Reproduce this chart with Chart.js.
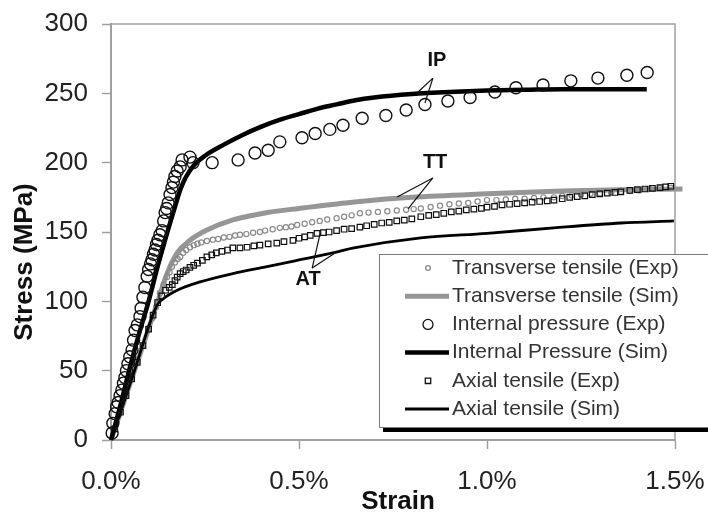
<!DOCTYPE html>
<html>
<head>
<meta charset="utf-8">
<script src="https://cdn.jsdelivr.net/npm/chart.js@4/dist/chart.umd.min.js"></script>
<style>
  html, body { margin: 0; padding: 0; background: #fff; }
  canvas { display: block; }
</style>
</head>
<body>
<canvas id="c" width="708" height="512"></canvas>
<script>
// ---------------- DATA (strain in %, stress in MPa) ----------------
const seriesLabels = [
  'Transverse tensile (Exp)', 'Transverse tensile (Sim)',
  'Internal pressure (Exp)', 'Internal Pressure (Sim)',
  'Axial tensile (Exp)', 'Axial tensile (Sim)'
];
const xTickValues = [0, 0.5, 1.0, 1.5];
const yTickValues = [0, 50, 100, 150, 200, 250, 300];

const ttExpStrain = [0.01,0.025,0.04,0.055,0.07,0.085,0.1,0.11,0.12,0.13,0.14,0.149,0.156,0.162,0.17,0.177,0.184,0.192,0.2,0.21,0.22,0.23,0.24,0.255,0.271,0.285,0.3,0.315,0.33,0.343,0.36,0.378,0.396,0.41,0.43,0.449,0.465,0.48,0.495,0.515,0.535,0.555,0.575,0.6,0.62,0.64,0.662,0.685,0.71,0.735,0.76,0.785,0.805,0.824,0.85,0.875,0.9,0.925,0.95,0.975,1.0,1.025,1.05,1.075,1.1,1.125,1.15,1.178,1.2,1.225,1.25,1.275,1.3,1.33,1.356,1.38,1.405,1.43,1.46,1.489];
const ttExpStress = [8,20,32,44,56,68,80,88,96,106,112,117.5,121,125,128,130.5,132,135,137,139,140.5,141.5,142.5,143.5,144.5,145,146,146.5,147.5,148,148.5,149.5,150,151,152,153,153.5,154,155,156,157,158,159,160,161,162,163.5,164,164.5,165,165.5,166,166.5,167,168,169,170,170.5,171,172,173,173,173.5,174,174,174.5,175,175,176,176.5,177,177.5,178,178.5,179,179.5,180,181,181.5,182];

const ttSimStrain = [0,0.06,0.122,0.149,0.176,0.21,0.255,0.324,0.415,0.5,0.662,0.8,1.0,1.2,1.35,1.52];
const ttSimStress = [0,48,98,120,135,144,151.4,158.7,164,167,172,175,177.5,179.5,180.5,181];

const ipExpStrain = [0.003,0.005,0.011,0.015,0.019,0.024,0.029,0.033,0.037,0.041,0.045,0.05,0.056,0.06,0.064,0.07,0.077,0.08,0.085,0.09,0.096,0.1,0.105,0.109,0.113,0.117,0.121,0.125,0.13,0.136,0.14,0.144,0.148,0.152,0.157,0.162,0.166,0.17,0.176,0.184,0.189,0.21,0.218,0.269,0.338,0.383,0.418,0.449,0.508,0.543,0.582,0.617,0.668,0.731,0.785,0.835,0.896,0.955,1.021,1.077,1.149,1.223,1.295,1.372,1.426];
const ipExpStress = [5,12,19,24,27,32,36,41,45,50,55,60,65,72,79,83,89,95,103,110,118,123,127,130,134,137,141,144,148,151,158,164,167,171,177,182,186,190,194,197,202,204,200,200,202,207,209,215,218,221,224,227,232,234,238,242,244.5,247,251,254,256,259,261,263,265];

const ipSimStrain = [0,0.025,0.05,0.075,0.1,0.125,0.15,0.17,0.185,0.2,0.22,0.25,0.3,0.35,0.4,0.45,0.5,0.55,0.6,0.65,0.7,0.8,0.9,1.0,1.1,1.2,1.3,1.425];
const ipSimStress = [0,25,52,77,100,126,150,168,181,190,198,205,213,220,226,231,235,239,242,245,247,249.5,251,252,252.5,253,253,253];

const atExpStrain = [0.01,0.025,0.04,0.055,0.07,0.085,0.1,0.112,0.124,0.135,0.145,0.155,0.163,0.17,0.176,0.184,0.192,0.2,0.21,0.22,0.23,0.243,0.255,0.268,0.28,0.295,0.31,0.324,0.343,0.362,0.38,0.396,0.418,0.441,0.46,0.484,0.5,0.515,0.53,0.548,0.565,0.58,0.6,0.62,0.64,0.662,0.68,0.7,0.72,0.74,0.76,0.78,0.8,0.824,0.845,0.865,0.885,0.905,0.925,0.945,0.965,0.985,1.0,1.02,1.04,1.06,1.08,1.1,1.12,1.14,1.16,1.178,1.2,1.22,1.24,1.26,1.28,1.3,1.32,1.34,1.356,1.38,1.4,1.42,1.44,1.46,1.475,1.489];
const atExpStress = [8,20,32,44,56,68,80,90,99,104,108,110,112,115,117.5,120,121.5,122.6,124.5,126,127.6,129.5,132,133.5,135,136,137,138.5,138.5,139,140,140.6,141.5,142,143,144,145.5,146.5,147.5,149,149.5,150,151,152,152.5,153.5,154.5,155.5,156.5,157,158,158.5,159.5,161,162,162.5,163.5,164.5,165,166,166.5,167,168,168.5,169.5,170,170.5,171,171.5,172,172.5,173,174,175,175.5,176,177,177.5,178,178.5,179,180,180.5,181,181.5,182,182.5,183];

const atSimStrain = [0,0.06,0.122,0.135,0.176,0.237,0.324,0.415,0.503,0.59,0.646,0.824,1.0,1.178,1.356,1.497];
const atSimStress = [0,48,97,101,108,114,120,125,130,135,138.5,145.7,149,153,156.5,158];

// Callout labels (text, label point, arrow end points, all in data units)
const calloutText = ['IP', 'TT', 'AT'];
const calloutLabel = [[0.867, 274], [0.862, 199.8], [0.524, 115.4]];
const calloutApex  = [[0.856, 261], [0.856, 189], [0.535, 124]];
const calloutEnds  = [
  [[0.814, 250.2], [0.835, 243]],
  [[0.761, 175.2], [0.790, 166.6]],
  [[0.556, 148.6], [0.596, 134.9]]
];

// ---------------- BUILD ----------------
const zip = (xs, ys) => xs.map((x, i) => ({ x: x, y: ys[i] }));
const FONT = "'Liberation Sans', Arial, Helvetica, sans-serif";
Chart.defaults.font.family = FONT;

const datasets = [
  { label: seriesLabels[0], data: zip(ttExpStrain, ttExpStress), showLine: false,
    pointStyle: 'circle', pointRadius: 2.6, pointBorderWidth: 1.2, pointBorderColor: '#8a8a8a',
    pointBackgroundColor: 'rgba(255,255,255,0)', order: 4 },
  { label: seriesLabels[1], data: zip(ttSimStrain, ttSimStress), showLine: true,
    borderColor: '#969696', borderWidth: 5, pointRadius: 0, cubicInterpolationMode: 'monotone', order: 5 },
  { label: seriesLabels[2], data: zip(ipExpStrain, ipExpStress), showLine: false,
    pointStyle: 'circle', pointRadius: 6, pointBorderWidth: 1.4, pointBorderColor: '#111',
    pointBackgroundColor: 'rgba(255,255,255,0)', order: 1 },
  { label: seriesLabels[3], data: zip(ipSimStrain, ipSimStress), showLine: true,
    borderColor: '#000', borderWidth: 4.5, pointRadius: 0, cubicInterpolationMode: 'monotone', order: 2 },
  { label: seriesLabels[4], data: zip(atExpStrain, atExpStress), showLine: false,
    pointStyle: 'rect', pointRadius: 3.9, pointBorderWidth: 1.2, pointBorderColor: '#111',
    pointBackgroundColor: 'rgba(255,255,255,0)', order: 3 },
  { label: seriesLabels[5], data: zip(atSimStrain, atSimStress), showLine: true,
    borderColor: '#000', borderWidth: 2.8, pointRadius: 0, cubicInterpolationMode: 'monotone', order: 3 }
];
datasets.forEach(d => { d.clip = false; d.fill = false; });

const frame = {
  id: 'frame',
  beforeDatasetsDraw(chart) {
    const a = chart.chartArea, ctx = chart.ctx;
    ctx.save();
    ctx.strokeStyle = '#a0a0a0';
    ctx.lineWidth = 1.5;
    ctx.beginPath();
    ctx.moveTo(a.left, a.top); ctx.lineTo(a.right, a.top); ctx.lineTo(a.right, a.bottom);
    ctx.stroke();
    ctx.restore();
  }
};

const axisTitles = {
  id: 'axisTitles',
  afterDraw(chart) {
    const ctx = chart.ctx;
    ctx.save();
    ctx.font = 'bold 26px ' + FONT;
    ctx.fillStyle = '#111';
    ctx.textAlign = 'center';
    ctx.textBaseline = 'middle';
    ctx.fillText('Strain', 398, 502);
    ctx.translate(25, 262);
    ctx.rotate(-Math.PI / 2);
    ctx.fillText('Stress (MPa)', 0, 0);
    ctx.restore();
  }
};

const callouts = {
  id: 'callouts',
  afterDatasetsDraw(chart) {
    const xs = chart.scales.x, ys = chart.scales.y, ctx = chart.ctx;
    ctx.save();
    ctx.strokeStyle = '#111';
    ctx.lineWidth = 1.2;
    ctx.fillStyle = '#111';
    ctx.font = 'bold 20px ' + FONT;
    ctx.textAlign = 'center';
    ctx.textBaseline = 'middle';
    calloutText.forEach((t, i) => {
      const ax = xs.getPixelForValue(calloutApex[i][0]), ay = ys.getPixelForValue(calloutApex[i][1]);
      calloutEnds[i].forEach(e => {
        ctx.beginPath();
        ctx.moveTo(ax, ay);
        ctx.lineTo(xs.getPixelForValue(e[0]), ys.getPixelForValue(e[1]));
        ctx.stroke();
      });
      ctx.fillText(t, xs.getPixelForValue(calloutLabel[i][0]), ys.getPixelForValue(calloutLabel[i][1]));
    });
    ctx.restore();
  }
};

const boxLegend = {
  id: 'boxLegend',
  afterDraw(chart) {
    const ctx = chart.ctx;
    const bx = 379, by = 254, bw = 345, bh = 173;
    ctx.save();
    ctx.fillStyle = '#000';
    ctx.fillRect(383, by + bh, 340, 5);
    ctx.fillStyle = '#fff';
    ctx.fillRect(bx, by, bw, bh);
    ctx.strokeStyle = '#7a7a7a';
    ctx.lineWidth = 1;
    ctx.strokeRect(bx + 0.5, by + 0.5, bw, bh);
    const rowY0 = 268, rowH = 28.2, markX = 428, lineX0 = 405, lineX1 = 449, textX = 452;
    ctx.font = '21px ' + FONT;
    ctx.textBaseline = 'middle';
    ctx.textAlign = 'left';
    chart.data.datasets.forEach((d, i) => {
      const y = rowY0 + i * rowH;
      if (d.showLine) {
        ctx.strokeStyle = d.borderColor;
        ctx.lineWidth = d.borderWidth;
        ctx.beginPath();
        ctx.moveTo(lineX0, y); ctx.lineTo(lineX1, y);
        ctx.stroke();
      } else {
        ctx.strokeStyle = d.pointBorderColor;
        ctx.lineWidth = 1.3;
        ctx.beginPath();
        if (d.pointStyle === 'rect') {
          ctx.rect(markX - 2.7, y - 2.7, 5.4, 5.4);
        } else {
          const r = d.pointRadius > 4 ? 5 : 2.4;
          ctx.arc(markX, y, r, 0, Math.PI * 2);
        }
        ctx.stroke();
      }
      ctx.fillStyle = '#333';
      ctx.fillText(d.label, textX, y);
    });
    ctx.restore();
  }
};

new Chart(document.getElementById('c'), {
  type: 'scatter',
  data: { datasets: datasets },
  plugins: [frame, callouts, boxLegend, axisTitles],
  options: {
    responsive: false,
    animation: false,
    devicePixelRatio: 1,
    layout: { padding: { top: 24, right: 33, left: 0, bottom: 0 } },
    plugins: { legend: { display: false }, tooltip: { enabled: false } },
    scales: {
      x: {
        type: 'linear', min: 0, max: 1.5,
        afterFit(s) { s.height = 72; s.paddingLeft = 0; s.paddingRight = 0; s.paddingTop = 0; s.paddingBottom = 0; },
        afterBuildTicks(s) { s.ticks = xTickValues.map(v => ({ value: v })); },
        border: { display: true, color: '#a0a0a0', width: 2 },
        grid: { display: true, drawOnChartArea: false, drawTicks: true, tickLength: 9,
                tickColor: '#a0a0a0', tickWidth: 1.5 },
        ticks: { padding: 17, color: '#222', font: { size: 26 }, maxRotation: 0,
                 callback: v => v.toFixed(1) + '%' },
        title: { display: false }
      },
      y: {
        type: 'linear', min: 0, max: 300,
        afterFit(s) { s.width = 111; s.paddingLeft = 0; s.paddingRight = 0; s.paddingTop = 0; s.paddingBottom = 0; },
        afterBuildTicks(s) { s.ticks = yTickValues.map(v => ({ value: v })); },
        border: { display: true, color: '#a0a0a0', width: 2 },
        grid: { display: true, drawOnChartArea: false, drawTicks: true, tickLength: 9,
                tickColor: '#a0a0a0', tickWidth: 1.5 },
        ticks: { padding: 14, color: '#222', font: { size: 26 } }
      }
    }
  }
});
</script>
</body>
</html>
